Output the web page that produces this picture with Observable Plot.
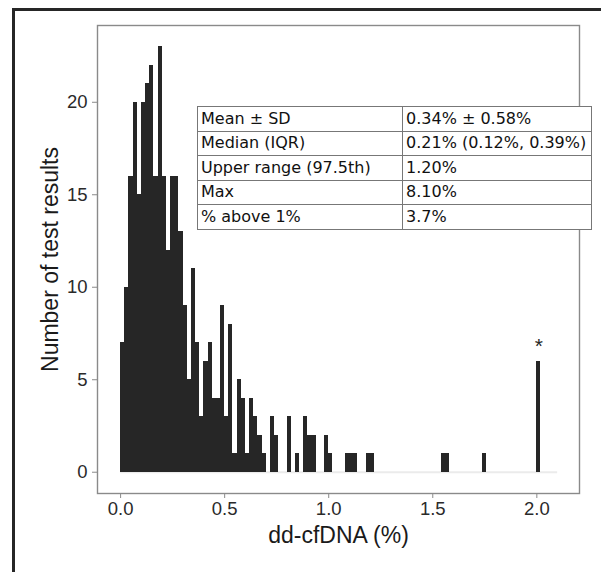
<!DOCTYPE html>
<html>
<head>
<meta charset="utf-8">
<script src="https://cdn.jsdelivr.net/npm/d3@7"></script>
<script src="https://cdn.jsdelivr.net/npm/@observablehq/plot@0.6"></script>
<style>
  html, body { margin: 0; padding: 0; background: #fff; }
  #wrap { position: relative; width: 601px; height: 572px; overflow: hidden; background: #fff; }
  #border { position: absolute; left: 12px; top: 8px; width: 700px; height: 700px;
            border-left: 3px solid #262626; border-top: 3px solid #262626; }
  #chart { position: absolute; left: 0; top: 0; }
  #stats { position: absolute; left: 197px; top: 106px; width: 395px; border-collapse: collapse;
           background: #fff; font-family: "DejaVu Sans", Verdana, sans-serif; font-size: 16px; color: #111; }
  #stats td { border: 1px solid #777; height: 23.5px; padding: 0 0 0 3px; white-space: nowrap; line-height: 1; }
  #stats td.c1 { width: 201px; }
</style>
</head>
<body>
<div id="wrap">
  <div id="border"></div>
  <div id="chart"></div>
  <table id="stats"></table>
</div>
<script>
// Histogram bins (left edge, % dd-cfDNA) and counts
const binWidth = 0.02;
const binStart = [0.00, 0.02, 0.04, 0.06, 0.08, 0.10, 0.12, 0.14, 0.16, 0.18,
                  0.20, 0.22, 0.24, 0.26, 0.28, 0.30, 0.32, 0.34, 0.36, 0.38,
                  0.40, 0.42, 0.44, 0.46, 0.48, 0.50, 0.52, 0.54, 0.56, 0.58,
                  0.60, 0.62, 0.64, 0.66, 0.68, 0.72, 0.74, 0.80, 0.84, 0.88,
                  0.90, 0.92, 0.98, 1.00, 1.08, 1.10, 1.12, 1.18, 1.20, 1.54,
                  1.56, 1.74, 2.00];
const binCount = [7, 10, 16, 20, 15, 20, 21, 22, 16, 23,
                  16, 12, 16, 16, 13, 9, 5, 11, 7, 3,
                  6, 7, 4, 4, 9, 3, 8, 1, 5, 4,
                  1, 4, 3, 2, 1, 3, 2, 3, 1, 3,
                  2, 2, 2, 1, 1, 1, 1, 1, 1, 1,
                  1, 1, 6];

// Axis ticks and titles
const xTicks = [0, 0.5, 1.0, 1.5, 2.0];
const yTicks = [0, 5, 10, 15, 20];
const xTitle = "dd-cfDNA (%)";
const yTitle = "Number of test results";

// Baseline extent and asterisk annotation
const baselineX = [0, 2.1];
const starX = [2.01];
const starY = [6];
const starText = ["*"];

// Summary table
const statLabels = ["Mean ± SD", "Median (IQR)", "Upper range (97.5th)", "Max", "% above 1%"];
const statValues = ["0.34% ± 0.58%", "0.21% (0.12%, 0.39%)", "1.20%", "8.10%", "3.7%"];

const bins = binStart.map((x, i) => ({x1: x, x2: +(x + binWidth).toFixed(2), count: binCount[i]}));
const stars = starX.map((x, i) => ({x, y: starY[i], t: starText[i]}));

const chart = Plot.plot({
  width: 601,
  height: 572,
  marginLeft: 97,
  marginRight: 22,
  marginTop: 25,
  marginBottom: 79,
  style: {fontFamily: "'Liberation Sans', Arial, sans-serif", fontSize: "18px", color: "#2a2a2a", background: "transparent"},
  x: {domain: [-0.111, 2.205]},
  y: {domain: [-1.15, 24.15]},
  marks: [
    Plot.ruleY([0], {x1: baselineX[0], x2: baselineX[1], stroke: "#ebebeb", strokeWidth: 2}),
    Plot.rectY(bins, {x1: "x1", x2: "x2", y: "count", fill: "#262626", inset: 0, shapeRendering: "crispEdges"}),
    Plot.text(stars, {x: "x", y: "y", text: "t", dy: -15, fontSize: 21, fill: "#262626"}),
    Plot.frame({stroke: "#8a8a8a", strokeWidth: 1.4}),
    Plot.axisY({ticks: yTicks, tickSize: 5, tickPadding: 5, label: null, stroke: "#8a8a8a", fontSize: 18.5}),
    Plot.axisX({ticks: xTicks, tickFormat: d3.format(".1f"), tickSize: 5, tickPadding: 3, label: null, stroke: "#8a8a8a", fontSize: 18.5}),
    Plot.text([xTitle], {frameAnchor: "bottom", dy: 42, text: d => d, fontSize: 23, textAnchor: "middle", lineAnchor: "middle", fill: "#1a1a1a"}),
    Plot.text([yTitle], {frameAnchor: "left", dx: -47, rotate: -90, text: d => d, fontSize: 23, textAnchor: "middle", lineAnchor: "middle", fill: "#1a1a1a"})
  ]
});
document.getElementById("chart").appendChild(chart);

const table = document.getElementById("stats");
statLabels.forEach((lab, i) => {
  const tr = document.createElement("tr");
  const a = document.createElement("td"); a.className = "c1"; a.textContent = lab;
  const b = document.createElement("td"); b.textContent = statValues[i];
  tr.appendChild(a); tr.appendChild(b); table.appendChild(tr);
});
</script>
</body>
</html>
